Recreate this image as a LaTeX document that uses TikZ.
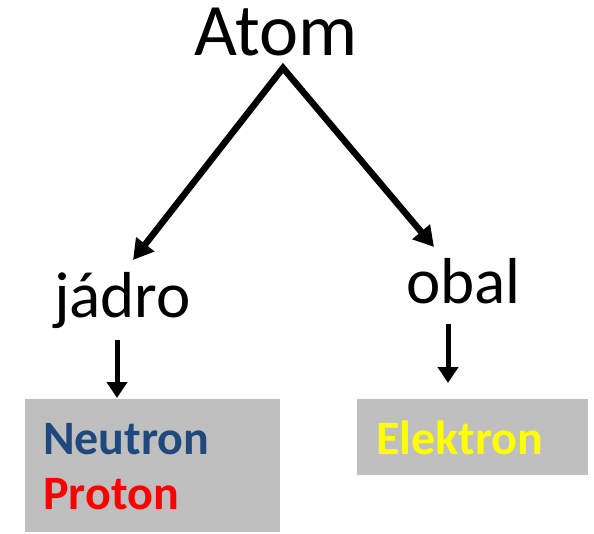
\documentclass[tikz,border=0pt]{standalone}
\usepackage{fontspec}
\setmainfont{Carlito}
\usetikzlibrary{arrows.meta}
\definecolor{boxgray}{HTML}{BFBFBF}
\definecolor{navy}{HTML}{1F497D}
\definecolor{yel}{HTML}{FFFF00}
\definecolor{red}{HTML}{FF0000}
\tikzset{
  x=1pt,y=1pt,
  lbl/.style={inner sep=0pt,anchor=base west,font=\fontsize{65}{70}\selectfont},
  boxtxt/.style={inner sep=0pt,anchor=base west,font=\fontsize{48}{54}\selectfont\bfseries},
  graybox/.style={fill=boxgray,draw=none},
  bigarrow/.style={line width=6.5pt,{Triangle[length=20pt,width=22pt]}-{Triangle[length=20pt,width=22pt]}},
  smallarrow/.style={line width=5pt,-{Triangle[length=16pt,width=20pt]}}
}
\begin{document}
\begin{tikzpicture}
\useasboundingbox (0,0) rectangle (594,-533);
\node[lbl,font=\fontsize{74}{80}\selectfont] (atom) at (194,-55) {Atom};
\node[lbl] (jadro) at (54,-317) {jádro};
\node[lbl] (obal) at (406,-303) {obal};
\fill[graybox] (25,-399) rectangle (280,-532);
\fill[graybox] (357,-399) rectangle (588,-475);
\node[boxtxt,text=navy] (neutron) at (43,-454) {Neutron};
\node[boxtxt,text=red] (proton) at (43,-509) {Proton};
\node[boxtxt,text=yel] (elektron) at (376,-454) {Elektron};
\coordinate (apex) at (283,-68);
\coordinate (jtip) at (133,-260);
\coordinate (otip) at (434,-247);
\draw[bigarrow] (jtip) -- (apex) -- (otip);
\coordinate (js) at (117,-340);
\coordinate (je) at (117,-398);
\coordinate (os) at (448,-324);
\coordinate (oe) at (448,-383);
\draw[smallarrow] (js) -- (je);
\draw[smallarrow] (os) -- (oe);
\end{tikzpicture}
\end{document}
